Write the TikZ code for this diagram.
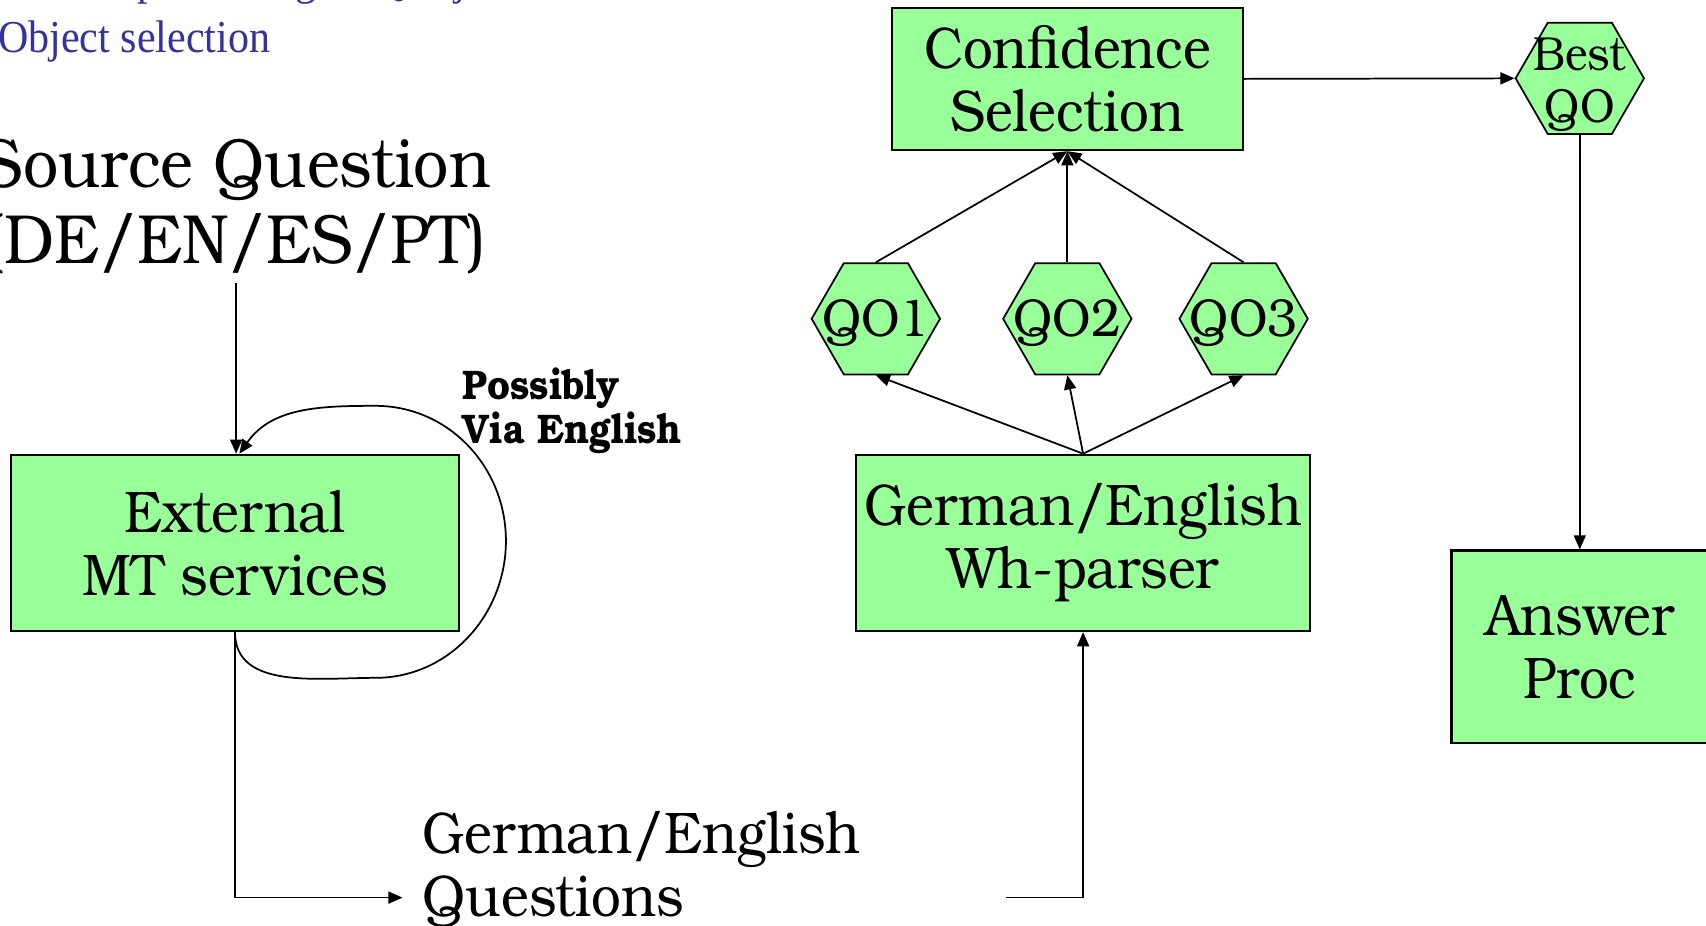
\documentclass[tikz,border=0pt]{standalone}
\usepackage{fontspec}
\setmainfont{texgyrebonum}[Extension=.otf,UprightFont=*-regular,BoldFont=*-bold,FakeStretch=0.9]
\newfontfamily\slidefont{Liberation Serif}[FakeStretch=0.92]
\usetikzlibrary{arrows.meta,shapes.geometric,positioning}
\definecolor{boxgreen}{HTML}{99FF99}
\definecolor{slideblue}{HTML}{333399}

\tikzset{
  box/.style={draw,fill=boxgreen,line width=1pt,align=center,inner sep=2pt,font=\fontsize{27}{29}\selectfont},
  hexa/.style={draw,fill=boxgreen,line width=0.8pt,regular polygon,regular polygon sides=6,minimum size=59pt,inner sep=0pt},
  flow/.style={->,line width=0.8pt},
  >={Triangle[length=6.5pt,width=5.5pt]}
}

\begin{document}
\begin{tikzpicture}[x=0.5pt,y=-0.5pt]
\useasboundingbox (0,0) rectangle (1568,851);

% heading of the slide, cut by the frame
\node[anchor=base west,inner sep=0pt,text=slideblue,font=\slidefont\fontsize{21}{24}\selectfont] (head1) at (-2,-5) {Parallel processing of QObjects};
\node[anchor=base west,inner sep=0pt,text=slideblue,font=\slidefont\fontsize{21}{24}\selectfont] (head2) at (-2,48) {Object selection};

\node[align=center,inner sep=4pt,font=\fontsize{32}{35}\selectfont] (src) at (217,190) {Source Question\\(DE/EN/ES/PT)};

\node[box,minimum width=206pt,minimum height=81pt] (mt) at (216,499) {External\\MT services};
\node[box,minimum width=161.5pt,minimum height=65.5pt] (conf) at (981,72.5) {Confidence\\Selection};
\node[box,minimum width=208.5pt,minimum height=81pt] (parser) at (995.5,499) {\raisebox{-3pt}{German/English}\\\raisebox{-3pt}{Wh-parser}};
\node[box,minimum width=118pt,minimum height=88.5pt] (answer) at (1452,594.5) {Answer\\Proc};

\foreach \i/\x in {1/805,2/981,3/1143}
  \node[hexa,label={[font=\fontsize{24.5}{26}\selectfont,yshift=-2pt]center:QO\i}] (qo\i) at (\x,293) {};
\node[hexa,label={[align=center,font=\fontsize{22}{24}\selectfont,yshift=-3pt]center:Best\\QO}] (best) at (1452,72) {};

\node[anchor=north west,align=left,inner sep=0pt,font=\bfseries\fontsize{19}{20}\selectfont] (via) at (425,338) {Possibly\\Via English};
\node[anchor=north west,align=left,inner sep=0pt,font=\fontsize{27}{29}\selectfont] (qs) at (388,745) {German/English\\Questions};

\coordinate (lpb) at (345,623);
\coordinate (lpr) at (465,497);
\coordinate (lpt) at (345,373);
\coordinate (qin) at (370,825);
\coordinate (qout) at (925,825);

\draw[flow] (src.south) -- (src.south |- mt.north);
\draw[flow] (mt.south) to[out=-90,in=180] (lpb) to[out=0,in=-90] (lpr) to[out=90,in=0] (lpt) to[out=180,in=55] ([xshift=2]mt.north);
\draw[flow] (mt.south) |- (qin);
\draw[flow] (qout) -| (parser.south);
\foreach \i in {1,2,3}{
  \draw[flow] (parser.north) -- (qo\i.south);
  \draw[flow] (qo\i.north) -- (conf.south);
}
\draw[flow] (conf.east) -- (best.west);
\draw[flow] (best.south) -- (answer.north);
\end{tikzpicture}
\end{document}
